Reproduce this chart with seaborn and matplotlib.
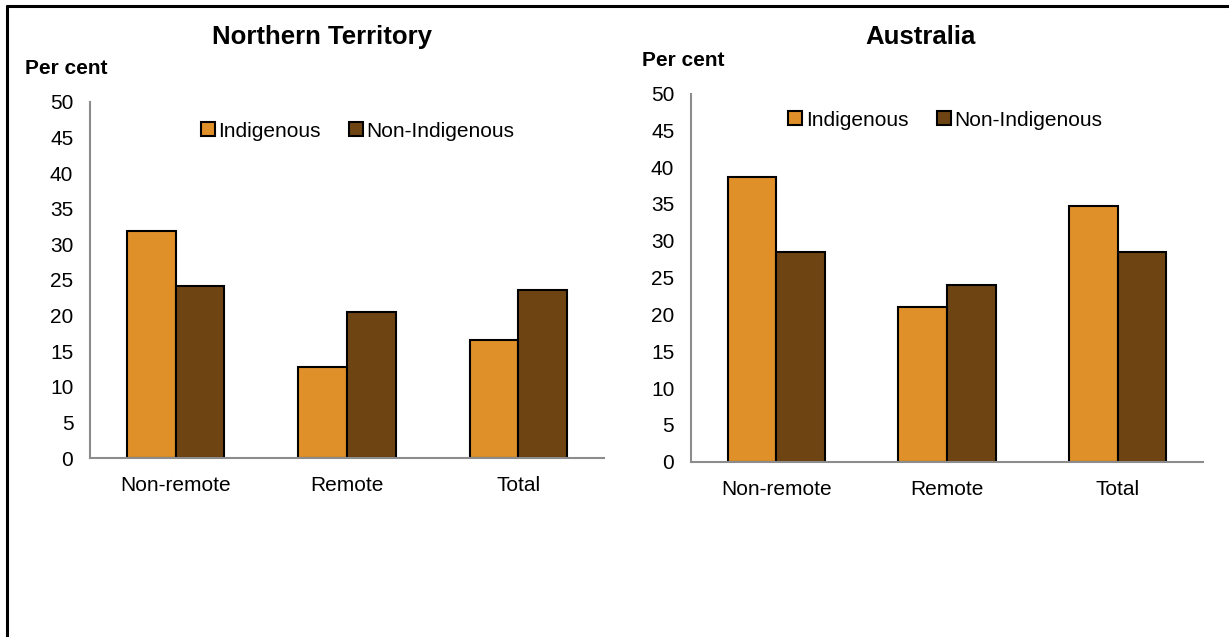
import matplotlib
matplotlib.use("Agg")
import matplotlib.pyplot as plt
import matplotlib.lines as mlines
import seaborn as sns
import pandas as pd

categories = ["Non-remote", "Remote", "Total"]
series = ["Indigenous", "Non-Indigenous"]
nt_indigenous = [31.9, 12.8, 16.6]
nt_non_indigenous = [24.2, 20.5, 23.6]
au_indigenous = [38.6, 21.0, 34.7]
au_non_indigenous = [28.5, 24.0, 28.5]
y_ticks = [0, 5, 10, 15, 20, 25, 30, 35, 40, 45, 50]
titles = ["Northern Territory", "Australia"]

colors = {"Indigenous": "#E09028", "Non-Indigenous": "#6E4413"}

sns.set_theme(style="white")
plt.rcParams['font.family'] = ['Liberation Sans', 'DejaVu Sans']
plt.rcParams['text.color'] = 'black'
plt.rcParams['xtick.color'] = 'black'
plt.rcParams['ytick.color'] = 'black'

fig = plt.figure(figsize=(12.29, 6.37), dpi=100)

def make_df(ind, non):
    rows = []
    for c, v in zip(categories, ind):
        rows.append({"cat": c, "series": "Indigenous", "val": v})
    for c, v in zip(categories, non):
        rows.append({"cat": c, "series": "Non-Indigenous", "val": v})
    return pd.DataFrame(rows)

axes_rects = [[0.0732, 0.281, 0.4183, 0.559], [0.5622, 0.2752, 0.4167, 0.578]]
datasets = [(nt_indigenous, nt_non_indigenous), (au_indigenous, au_non_indigenous)]
title_pos = [(322, 37), (921, 37)]
percent_pos = [(25, 68), (642, 61)]
legend_pos = [(0.517, 0.918), (0.493, 0.928)]

grey = "#8C8C8C"
for i in range(2):
    ax = fig.add_axes(axes_rects[i])
    df = make_df(*datasets[i])
    sns.barplot(data=df, x="cat", y="val", hue="series", palette=colors,
                order=categories, hue_order=series, width=0.57,
                edgecolor="black", linewidth=1.5, ax=ax, legend=False, saturation=1)
    ax.set_ylim(0, 50)
    ax.set_xlim(-0.5, 2.5)
    ax.set_yticks(y_ticks)
    ax.set_yticklabels([str(t) for t in y_ticks], fontsize=15)
    ax.set_xticks([-0.5, 0.5, 1.5, 2.5], minor=False)
    ax.set_xticklabels([])
    ax.set_xticks([0, 1, 2], minor=True)
    ax.set_xticklabels(categories, minor=True, fontsize=15)
    ax.tick_params(axis="x", which="minor", length=0, pad=13)
    ax.tick_params(axis="x", which="major", length=7, color=grey, width=1.2, direction="out")
    ax.tick_params(axis="y", length=6, color=grey, width=1.2, direction="out", pad=6)
    ax.set_xlabel("")
    ax.set_ylabel("")
    for s in ["top", "right"]:
        ax.spines[s].set_visible(False)
    for s in ["left", "bottom"]:
        ax.spines[s].set_color(grey)
        ax.spines[s].set_linewidth(1.5)
    handles = [mlines.Line2D([], [], marker="s", linestyle="none", markersize=10,
                             markerfacecolor=colors[s], markeredgecolor="black",
                             markeredgewidth=1.5, label=s) for s in series]
    ax.legend(handles=handles, loc="center", bbox_to_anchor=legend_pos[i], ncol=2,
              frameon=False, fontsize=15, handletextpad=0.0, columnspacing=1.2,
              handlelength=1.0)
    fig.text(title_pos[i][0] / 1229, 1 - title_pos[i][1] / 637, titles[i],
             ha="center", va="center", fontsize=18.5, fontweight="bold")
    fig.text(percent_pos[i][0] / 1229, 1 - percent_pos[i][1] / 637, "Per cent",
             ha="left", va="center", fontsize=15, fontweight="bold")

# figure border (top and left)
fig.add_artist(mlines.Line2D([7 / 1229, 1.0], [1 - 5.5 / 637, 1 - 5.5 / 637],
                             color="black", linewidth=2.2, transform=fig.transFigure))
fig.add_artist(mlines.Line2D([7 / 1229, 7 / 1229], [0, 1 - 5.5 / 637],
                             color="black", linewidth=2.2, transform=fig.transFigure))

fig.savefig("out.png", dpi=100)
